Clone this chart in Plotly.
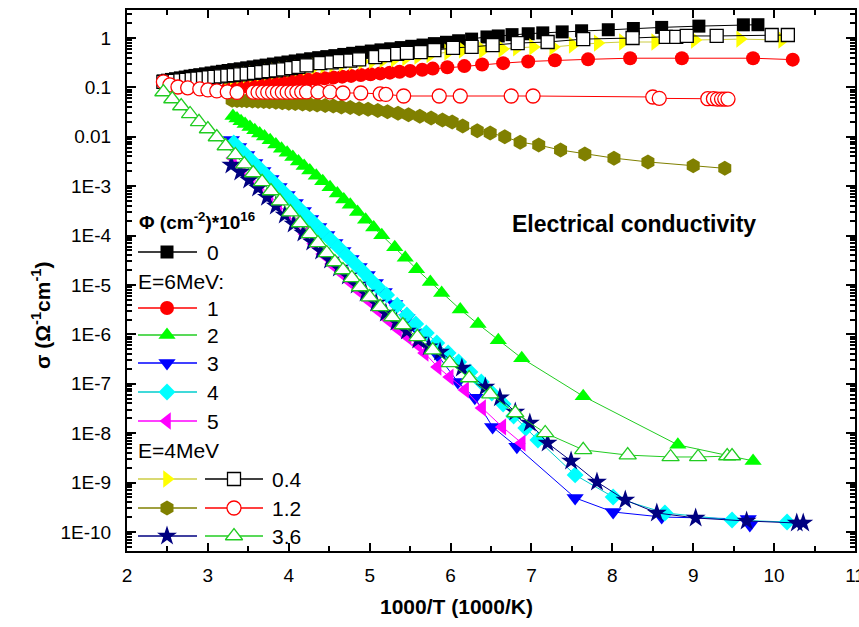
import plotly.graph_objects as go

# ---------------- data ----------------
# Phi = 0
BLACK_X = [2.45, 2.50, 2.55, 2.60, 2.66, 2.72, 2.78, 2.84, 2.90, 2.97, 3.04, 3.11, 3.18, 3.25, 3.32,
           3.40, 3.48, 3.56, 3.64, 3.72, 3.81, 3.90, 3.99, 4.08, 4.17, 4.27, 4.37, 4.47, 4.57, 4.68,
           4.79, 4.90, 5.02, 5.14, 5.26, 5.39, 5.52, 5.66, 5.80, 5.95, 6.10, 6.26, 6.45, 6.59, 6.76,
           6.96, 7.14, 7.38, 7.62, 7.95, 8.26, 8.61, 9.07, 9.62, 9.80]
BLACK_Y = [0.135, 0.140, 0.145, 0.150, 0.156, 0.162, 0.169, 0.175, 0.181, 0.188, 0.196, 0.204, 0.212,
           0.220, 0.229, 0.238, 0.249, 0.260, 0.271, 0.283, 0.297, 0.312, 0.327, 0.343, 0.360, 0.380,
           0.400, 0.420, 0.440, 0.465, 0.490, 0.515, 0.545, 0.575, 0.605, 0.640, 0.680, 0.720, 0.770,
           0.820, 0.880, 0.950, 1.05, 1.10, 1.17, 1.22, 1.27, 1.33, 1.40, 1.47, 1.56, 1.64, 1.74, 1.85, 1.86]

# E = 6 MeV
RED_X = [3.25, 3.32, 3.39, 3.46, 3.54, 3.62, 3.70, 3.78, 3.87, 3.96, 4.05, 4.14, 4.24, 4.34, 4.44,
         4.55, 4.66, 4.77, 4.89, 5.01, 5.13, 5.25, 5.37, 5.50, 5.65, 5.78, 5.96, 6.17, 6.39, 6.65,
         6.96, 7.29, 7.70, 8.22, 8.86, 9.74, 10.23]
RED_Y = [0.098, 0.101, 0.104, 0.107, 0.110, 0.113, 0.116, 0.120, 0.124, 0.128, 0.133, 0.138, 0.143,
         0.148, 0.153, 0.159, 0.165, 0.171, 0.178, 0.185, 0.192, 0.199, 0.207, 0.216, 0.228, 0.240,
         0.255, 0.270, 0.290, 0.310, 0.335, 0.355, 0.370, 0.390, 0.390, 0.390, 0.365]

GF_X = [3.31, 3.36, 3.41, 3.46, 3.52, 3.58, 3.64, 3.70, 3.77, 3.84, 3.91, 3.98, 4.05, 4.12, 4.19,
        4.26, 4.34, 4.42, 4.51, 4.60, 4.68, 4.76, 4.85, 4.95, 5.05, 5.15, 5.31, 5.44, 5.58, 5.75,
        5.89, 6.12, 6.34, 6.59, 6.88, 7.64, 8.81, 9.74]
GF_Y = [0.0263, 0.0234, 0.0207, 0.0182, 0.0158, 0.0136, 0.0117, 0.0101, 0.00851, 0.00700, 0.00575,
        0.00473, 0.00389, 0.00316, 0.00257, 0.00209, 0.00162, 0.00126, 9.5e-4, 7.1e-4, 5.4e-4,
        4.2e-4, 3.0e-4, 2.1e-4, 1.46e-4, 1.02e-4, 5.8e-5, 3.55e-5, 2.09e-5, 1.15e-5, 6.9e-6, 3.2e-6,
        1.62e-6, 7.6e-7, 3.3e-7, 5.6e-8, 5.8e-9, 2.75e-9]

BL_X = [3.29, 3.38, 3.48, 3.58, 3.68, 3.78, 3.88, 3.98, 4.08, 4.18, 4.27, 4.37, 4.47, 4.57, 4.67,
        4.77, 4.87, 4.97, 5.07, 5.18, 5.31, 5.46, 5.62, 5.84, 6.09, 6.30, 6.52, 6.82, 7.54, 8.01,
        8.61, 9.68, 9.70]
BL_Y = [8.6e-3, 6.2e-3, 4.28e-3, 2.95e-3, 2.03e-3, 1.40e-3, 9.6e-4, 6.6e-4, 4.57e-4, 3.15e-4,
        2.17e-4, 1.49e-4, 1.03e-4, 7.1e-5, 4.88e-5, 3.36e-5, 2.31e-5, 1.59e-5, 1.10e-5, 7.2e-6,
        4.12e-6, 2.15e-6, 1.07e-6, 3.8e-7, 1.09e-7, 5.2e-8, 1.34e-8, 5.3e-9, 4.9e-10, 2.54e-10,
        2.01e-10, 1.83e-10, 1.39e-10]

CY_X = [3.32, 3.42, 3.52, 3.62, 3.72, 3.82, 3.92, 4.02, 4.11, 4.21, 4.31, 4.41, 4.51, 4.61, 4.71,
        4.81, 4.91, 5.00, 5.10, 5.21, 5.34, 5.46, 5.57, 5.70, 5.83, 5.97, 6.10, 6.24, 6.38, 6.51,
        6.65, 6.78, 6.93, 7.08, 7.54, 8.01, 8.65, 9.48, 10.16]
CY_Y = [7.5e-3, 5.2e-3, 3.56e-3, 2.45e-3, 1.69e-3, 1.16e-3, 8.0e-4, 5.5e-4, 3.8e-4, 2.61e-4,
        1.80e-4, 1.24e-4, 8.5e-5, 5.9e-5, 4.05e-5, 2.79e-5, 1.92e-5, 1.32e-5, 9.1e-6, 6.3e-6,
        3.9e-6, 2.47e-6, 1.63e-6, 1.07e-6, 6.7e-7, 4.2e-7, 2.76e-7, 1.73e-7, 1.09e-7, 6.5e-8,
        3.9e-8, 2.23e-8, 1.27e-8, 7.3e-9, 1.43e-9, 5.1e-10, 2.43e-10, 1.75e-10, 1.59e-10]

MG_X = [3.31, 3.42, 3.53, 3.64, 3.76, 3.87, 3.98, 4.09, 4.20, 4.31, 4.42, 4.53, 4.65, 4.76, 4.87,
        4.98, 5.10, 5.23, 5.35, 5.47, 5.60, 5.68, 5.84, 5.99, 6.18, 6.39, 6.64, 6.88]
MG_Y = [3.72e-3, 2.45e-3, 1.61e-3, 1.06e-3, 6.9e-4, 4.36e-4, 2.74e-4, 1.72e-4, 1.08e-4, 6.8e-5,
        4.25e-5, 2.66e-5, 1.75e-5, 1.15e-5, 7.6e-6, 4.97e-6, 3.12e-6, 1.95e-6, 1.29e-6, 8.9e-7,
        6.1e-7, 4.2e-7, 2.19e-7, 1.37e-7, 7.5e-8, 3.24e-8, 1.34e-8, 6.3e-9]

# E = 4 MeV, filled symbols
YEL_X = [3.25, 3.32, 3.40, 3.48, 3.56, 3.65, 3.74, 3.83, 3.92, 4.02, 4.12, 4.22, 4.33, 4.44, 4.55,
         4.67, 4.79, 4.91, 5.04, 5.17, 5.31, 5.45, 5.60, 5.75, 5.97, 6.15, 6.40, 6.64, 6.82, 7.02,
         7.27, 7.51, 7.82, 8.13, 8.53, 9.02, 9.58, 10.10]
YEL_Y = [0.160, 0.166, 0.173, 0.180, 0.187, 0.195, 0.204, 0.213, 0.223, 0.234, 0.246, 0.258, 0.270,
         0.282, 0.295, 0.308, 0.322, 0.336, 0.350, 0.365, 0.380, 0.400, 0.430, 0.460, 0.520, 0.570,
         0.570, 0.600, 0.630, 0.660, 0.660, 0.720, 0.790, 0.830, 0.830, 0.910, 0.950, 0.910]

OL_X = [3.30, 3.36, 3.42, 3.48, 3.55, 3.62, 3.69, 3.76, 3.84, 3.92, 4.00, 4.08, 4.17, 4.26, 4.35,
        4.45, 4.55, 4.65, 4.76, 4.87, 4.98, 5.10, 5.22, 5.35, 5.48, 5.62, 5.76, 5.90, 6.02, 6.15,
        6.33, 6.49, 6.67, 6.86, 7.09, 7.36, 7.66, 8.02, 8.44, 9.00, 9.39]
OL_Y = [0.055, 0.0545, 0.054, 0.0535, 0.053, 0.0525, 0.052, 0.051, 0.050, 0.049, 0.048, 0.047, 0.046,
        0.045, 0.044, 0.043, 0.042, 0.040, 0.039, 0.037, 0.036, 0.034, 0.032, 0.030, 0.028, 0.026,
        0.024, 0.022, 0.020, 0.0166, 0.0132, 0.012, 0.0100, 0.0078, 0.0068, 0.0054, 0.0045, 0.0037,
        0.0031, 0.0026, 0.0023]

NV_X = [3.29, 3.40, 3.51, 3.62, 3.73, 3.84, 3.95, 4.06, 4.18, 4.29, 4.40, 4.51, 4.62, 4.73, 4.84,
        4.95, 5.08, 5.20, 5.33, 5.46, 5.60, 5.73, 5.87, 6.14, 6.43, 6.61, 6.80, 6.98, 7.20, 7.49,
        7.81, 8.16, 8.55, 9.03, 9.66, 10.28, 10.36]
NV_Y = [2.69e-3, 1.94e-3, 1.34e-3, 9.2e-4, 6.0e-4, 3.97e-4, 2.61e-4, 1.72e-4, 1.13e-4, 7.4e-5,
        4.88e-5, 3.21e-5, 2.21e-5, 1.52e-5, 1.0e-5, 6.9e-6, 4.32e-6, 2.71e-6, 1.78e-6, 1.17e-6,
        7.7e-7, 5.6e-7, 4.4e-7, 2.09e-7, 8.6e-8, 5.2e-8, 2.69e-8, 1.61e-8, 6.3e-9, 2.74e-9,
        1.03e-9, 4.45e-10, 2.43e-10, 1.92e-10, 1.67e-10, 1.52e-10, 1.52e-10]

# E = 4 MeV, open symbols
SQ_X = [2.45, 2.52, 2.59, 2.66, 2.73, 2.80, 2.87, 2.94, 3.01, 3.08, 3.16, 3.24, 3.32, 3.40, 3.48,
        3.57, 3.66, 3.75, 3.84, 3.93, 4.03, 4.12, 4.22, 4.39, 4.53, 4.63, 4.76, 4.87, 5.07, 5.19,
        5.34, 5.46, 5.63, 5.80, 6.03, 6.26, 6.52, 6.83, 7.20, 7.64, 8.25, 8.66, 8.79, 8.92, 9.29,
        9.97, 10.17]
SQ_Y = [0.130, 0.133, 0.136, 0.139, 0.143, 0.147, 0.151, 0.155, 0.159, 0.163, 0.168, 0.173, 0.178,
        0.184, 0.190, 0.197, 0.205, 0.213, 0.222, 0.232, 0.245, 0.260, 0.280, 0.310, 0.320, 0.340,
        0.350, 0.370, 0.410, 0.450, 0.480, 0.500, 0.520, 0.570, 0.630, 0.660, 0.720, 0.790, 0.830,
        0.950, 1.00, 1.05, 1.05, 1.10, 1.10, 1.15, 1.15]

CI_X = [2.45, 2.53, 2.63, 2.75, 2.90, 3.00, 3.11, 3.24, 3.36, 3.56, 3.62, 3.68, 3.74, 3.80, 3.86,
        3.92, 3.98, 4.04, 4.10, 4.16, 4.22, 4.36, 4.51, 4.67, 4.89, 5.13, 5.20, 5.42, 5.86, 6.12,
        6.75, 7.02, 8.50, 8.58, 9.18, 9.25, 9.30, 9.35, 9.39, 9.43]
CI_Y = [0.129, 0.112, 0.102, 0.098, 0.093, 0.089, 0.085, 0.081, 0.079, 0.080, 0.080, 0.080, 0.080,
        0.080, 0.080, 0.080, 0.080, 0.080, 0.081, 0.081, 0.081, 0.081, 0.081, 0.077, 0.077, 0.074,
        0.072, 0.067, 0.067, 0.067, 0.067, 0.067, 0.064, 0.060, 0.059, 0.059, 0.058, 0.058, 0.058, 0.058]

GO_X = [2.45, 2.56, 2.67, 2.78, 2.89, 3.00, 3.11, 3.22, 3.34, 3.45, 3.56, 3.67, 3.78, 3.89, 4.02,
        4.14, 4.26, 4.36, 4.47, 4.57, 4.67, 4.78, 4.88, 5.00, 5.13, 5.28, 5.41, 5.59, 5.78, 5.99,
        6.23, 6.49, 6.80, 7.17, 7.64, 8.19, 8.72, 9.06, 9.42, 9.48]
GO_Y = [0.0807, 0.0582, 0.0420, 0.0290, 0.0200, 0.0144, 0.00991, 0.00652, 0.00429, 0.00281,
        0.00185, 0.00122, 8.0e-4, 5.0e-4, 3.0e-4, 1.8e-4, 1.08e-4, 7.1e-5, 4.45e-5, 2.92e-5,
        2.01e-5, 1.39e-5, 9.1e-6, 5.7e-6, 3.6e-6, 2.25e-6, 1.55e-6, 8.9e-7, 4.8e-7, 2.64e-7,
        1.31e-7, 6.2e-8, 2.56e-8, 1.01e-8, 4.6e-9, 3.6e-9, 3.3e-9, 3.3e-9, 3.45e-9, 3.45e-9]

Y_TICK_VALS = [1, 0.1, 0.01, 1e-3, 1e-4, 1e-5, 1e-6, 1e-7, 1e-8, 1e-9, 1e-10]
Y_TICK_TEXT = ["1", "0.1", "0.01", "1E-3", "1E-4", "1E-5", "1E-6", "1E-7", "1E-8", "1E-9", "1E-10"]
X_TICK_VALS = [2, 3, 4, 5, 6, 7, 8, 9, 10, 11]

# ---------------- styles ----------------
FONT = "Liberation Sans, Arial, sans-serif"
STYLES = {
    "s0":  dict(symbol="square",         fill="#000000", edge=None,      line="#000000", size=13),
    "s1":  dict(symbol="circle",         fill="#ff0000", edge=None,      line="#ff0000", size=14),
    "s2":  dict(symbol="triangle-up",    fill="#00ff00", edge=None,      line="#22cc22", size=15),
    "s3":  dict(symbol="triangle-down",  fill="#0000ff", edge=None,      line="#0000ff", size=15),
    "s4":  dict(symbol="diamond",        fill="#00ffff", edge=None,      line="#00cccc", size=13),
    "s5":  dict(symbol="triangle-left",  fill="#ff00ff", edge=None,      line="#ff00ff", size=15),
    "yel": dict(symbol="triangle-right", fill="#ffff00", edge=None,      line="#cccc44", size=15),
    "olv": dict(symbol="hexagon",        fill="#808000", edge=None,      line="#808000", size=15),
    "nav": dict(symbol="star",           fill="#000080", edge=None,      line="#000080", size=15),
    "osq": dict(symbol="square",         fill="#ffffff", edge="#000000", line="#000000", size=13),
    "oci": dict(symbol="circle",         fill="#ffffff", edge="#ff0000", line="#ff0000", size=14),
    "otr": dict(symbol="triangle-up",    fill="#ffffff", edge="#22cc22", line="#22cc22", size=15),
}


def marker_of(key):
    s = STYLES[key]
    return dict(symbol=s["symbol"], size=s["size"], color=s["fill"],
                line=dict(color=s["edge"] or s["fill"], width=1.3 if s["edge"] else 0))


fig = go.Figure()

SERIES = [
    (BLACK_X, BLACK_Y, "s0"),
    (RED_X, RED_Y, "s1"),
    (GF_X, GF_Y, "s2"),
    (BL_X, BL_Y, "s3"),
    (CY_X, CY_Y, "s4"),
    (MG_X, MG_Y, "s5"),
    (YEL_X, YEL_Y, "yel"),
    (OL_X, OL_Y, "olv"),
    (NV_X, NV_Y, "nav"),
    (SQ_X, SQ_Y, "osq"),
    (CI_X, CI_Y, "oci"),
    (GO_X, GO_Y, "otr"),
]
for xs, ys, key in SERIES:
    fig.add_trace(go.Scatter(x=xs, y=ys, mode="lines+markers",
                             line=dict(color=STYLES[key]["line"], width=1),
                             marker=marker_of(key), showlegend=False,
                             cliponaxis=True))

# ---------------- hand-drawn legend (overlay axes in pixel units of the plot area) ----------------
PL, PR, PT, PB = 127, 855, 10, 551
LEG_ROWS = [
    (252, ["s0"], "0"),
    (308, ["s1"], "1"),
    (335, ["s2"], "2"),
    (363, ["s3"], "3"),
    (392, ["s4"], "4"),
    (421, ["s5"], "5"),
    (479, ["yel", "osq"], "0.4"),
    (508, ["olv", "oci"], "1.2"),
    (536, ["nav", "otr"], "3.6"),
]
SEG = [(138, 197, 167), (205, 263, 234)]
annotations = []
for py, keys, label in LEG_ROWS:
    for i, key in enumerate(keys):
        x0, x1, xm = SEG[i]
        fig.add_trace(go.Scatter(x=[x0, x1], y=[py, py], mode="lines",
                                 line=dict(color=STYLES[key]["line"], width=1.3),
                                 xaxis="x2", yaxis="y2", showlegend=False, hoverinfo="skip"))
        fig.add_trace(go.Scatter(x=[xm], y=[py], mode="markers", marker=marker_of(key),
                                 xaxis="x2", yaxis="y2", showlegend=False, hoverinfo="skip"))
    lx = 205 if len(keys) == 1 else 270
    annotations.append(dict(x=lx, y=py, xref="x2", yref="y2", text=label, showarrow=False,
                            xanchor="left", yanchor="middle",
                            font=dict(family=FONT, size=21, color="black")))

annotations += [
    dict(x=137, y=221, xref="x2", yref="y2", text="<b>Φ (cm<sup>-2</sup>)*10<sup>16</sup></b>",
         showarrow=False, xanchor="left", yanchor="middle",
         font=dict(family=FONT, size=19, color="black")),
    dict(x=136, y=281, xref="x2", yref="y2", text="E=6MeV:", showarrow=False,
         xanchor="left", yanchor="middle", font=dict(family=FONT, size=21, color="black")),
    dict(x=136, y=450, xref="x2", yref="y2", text="E=4MeV", showarrow=False,
         xanchor="left", yanchor="middle", font=dict(family=FONT, size=21, color="black")),
    dict(x=510, y=224, xref="x2", yref="y2", text="<b>Electrical conductivity</b>", showarrow=False,
         xanchor="left", yanchor="middle", font=dict(family=FONT, size=23, color="black")),
    # axis titles
    dict(x=(456 - PL) / (PR - PL), y=(PB - 606) / (PB - PT), xref="paper", yref="paper",
         text="<b>1000/T (1000/K)</b>", showarrow=False, xanchor="center", yanchor="middle",
         font=dict(family=FONT, size=21, color="black")),
    dict(x=(41 - PL) / (PR - PL), y=(PB - 315) / (PB - PT), xref="paper", yref="paper",
         text="<b>σ (Ω<sup>-1</sup>cm<sup>-1</sup>)</b>", showarrow=False, textangle=-90,
         xanchor="center", yanchor="middle", font=dict(family=FONT, size=21, color="black")),
]

MINOR_Y = [m * 10.0 ** e for e in range(-11, 1) for m in range(2, 10)]

fig.update_layout(
    width=859, height=627,
    margin=dict(l=PL, r=859 - PR, t=PT, b=627 - PB, autoexpand=False),
    paper_bgcolor="white", plot_bgcolor="white",
    showlegend=False,
    font=dict(family=FONT, color="black"),
    annotations=annotations,
    xaxis=dict(range=[2, 11], tickmode="array", tickvals=X_TICK_VALS,
               ticks="inside", ticklen=8, tickwidth=2, tickcolor="black",
               showline=True, linewidth=2, linecolor="black", mirror="allticks",
               showgrid=False, zeroline=False, ticklabelstandoff=6,
               ticklabeloverflow="allow", automargin=False,
               tickfont=dict(family=FONT, size=19, color="black"),
               minor=dict(dtick=0.5, ticks="inside", ticklen=5, tickwidth=1.5,
                          tickcolor="black", showgrid=False)),
    yaxis=dict(type="log", range=[-10.385, 0.567], tickmode="array",
               tickvals=Y_TICK_VALS, ticktext=Y_TICK_TEXT,
               ticks="inside", ticklen=9, tickwidth=2, tickcolor="black",
               showline=True, linewidth=2, linecolor="black", mirror="allticks",
               showgrid=False, zeroline=False, ticklabelstandoff=10, automargin=False,
               tickfont=dict(family=FONT, size=19, color="black"),
               minor=dict(tickmode="array", tickvals=MINOR_Y, ticks="inside", ticklen=5,
                          tickwidth=1.5, tickcolor="black", showgrid=False)),
    xaxis2=dict(range=[PL, PR], overlaying="x", anchor="y2", visible=False, fixedrange=True),
    yaxis2=dict(range=[PB, PT], overlaying="y", anchor="x2", visible=False, fixedrange=True),
)

fig.write_html("out.html")
